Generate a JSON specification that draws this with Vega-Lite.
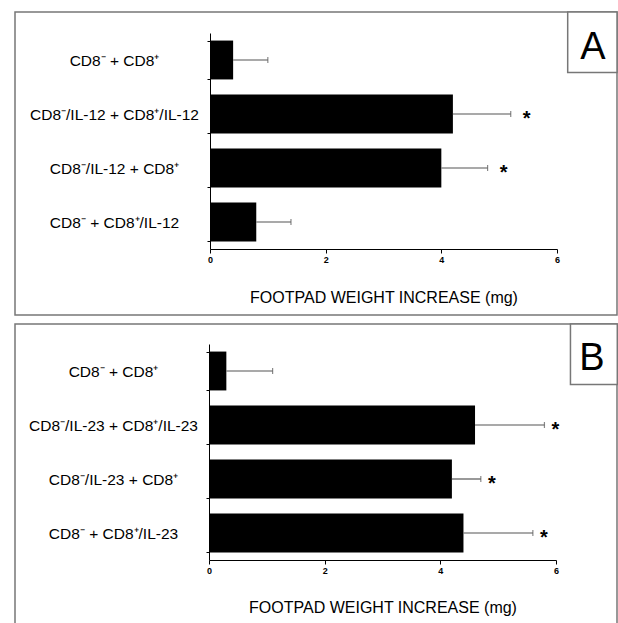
{
  "$schema": "https://vega.github.io/schema/vega-lite/v6.json",
  "padding": {"left": 14, "top": 4, "right": 2, "bottom": 0},
  "spacing": 0,
  "config": {
    "view": {"stroke": "#777", "strokeWidth": 1.5},
    "font": "Liberation Sans",
    "axis": {"labelFont": "Liberation Sans", "titleFont": "Liberation Sans", "grid": false}
  },
  "vconcat": [
    {
      "width": 602,
      "height": 303,
      "data": {"values": [
        {"group": "CD8⁻ + CD8⁺", "mean": 0.4, "upper": 1.0, "sig": ""},
        {"group": "CD8⁻/IL-12 + CD8⁺/IL-12", "mean": 4.2, "upper": 5.2, "sig": "*"},
        {"group": "CD8⁻/IL-12 + CD8⁺", "mean": 4.0, "upper": 4.8, "sig": "*"},
        {"group": "CD8⁻ + CD8⁺/IL-12", "mean": 0.8, "upper": 1.4, "sig": ""}
      ]},
      "layer": [
        {
          "layer": [
            {
              "mark": {"type": "bar", "color": "black"},
              "encoding": {
                "y": {"field": "group", "type": "nominal", "sort": null,
                  "scale": {"range": [21, 237], "paddingInner": 0.28, "paddingOuter": 0.14},
                  "axis": {"title": null, "offset": -195, "domainColor": "black", "tickColor": "black", "tickSize": 3, "tickBand": "extent", "labelFontSize": 15.5, "labelAlign": "center", "labelPadding": 93, "labelLimit": 400, "labelColor": "black"}},
                "x": {"field": "mean", "type": "quantitative",
                  "scale": {"domain": [0, 6], "range": [195, 542], "nice": false, "zero": true},
                  "axis": {"values": [0, 2, 4, 6], "format": "d", "offset": -66, "domainColor": "black", "tickColor": "black", "tickSize": 4, "labelFontSize": 9, "labelFontWeight": "bold", "labelPadding": 2, "labelColor": "black", "labelFlush": false, "title": "FOOTPAD WEIGHT INCREASE (mg)", "titleFontSize": 16, "titleFontWeight": "normal", "titlePadding": 25, "titleColor": "black"}}
              }
            },
            {
              "mark": {"type": "rule", "color": "#555", "strokeWidth": 1.2},
              "encoding": {
                "y": {"field": "group", "type": "nominal", "sort": null},
                "x": {"field": "mean", "type": "quantitative"},
                "x2": {"field": "upper"}
              }
            },
            {
              "mark": {"type": "tick", "orient": "vertical", "size": 6, "thickness": 1.2, "color": "#555"},
              "encoding": {
                "y": {"field": "group", "type": "nominal", "sort": null},
                "x": {"field": "upper", "type": "quantitative"}
              }
            },
            {
              "mark": {"type": "text", "fontSize": 20, "fontWeight": "bold", "dx": 16, "dy": 11, "baseline": "alphabetic", "align": "center", "color": "black"},
              "encoding": {
                "y": {"field": "group", "type": "nominal", "sort": null},
                "x": {"field": "upper", "type": "quantitative"},
                "text": {"field": "sig"}
              }
            }
          ]
        },
        {
          "data": {"values": [{"letter": "A"}]},
          "mark": {"type": "rect", "fill": "white", "stroke": "#777", "strokeWidth": 1.5},
          "encoding": {
            "x": {"datum": 6.185, "type": "quantitative"},
            "x2": {"datum": 7.038},
            "y": {"datum": 0.8, "type": "quantitative", "scale": {"domain": [0, 1]}, "axis": null},
            "y2": {"datum": 1}
          }
        },
        {
          "data": {"values": [{"letter": "A"}]},
          "mark": {"type": "text", "fontSize": 38, "baseline": "alphabetic", "align": "center", "color": "black"},
          "encoding": {
            "x": {"datum": 6.62, "type": "quantitative"},
            "y": {"datum": 0.845, "type": "quantitative", "scale": {"domain": [0, 1]}, "axis": null},
            "text": {"field": "letter"}
          }
        }
      ],
      "resolve": {"scale": {"y": "independent"}}
    },
    {
      "width": 602,
      "height": 303,
      "data": {"values": [
        {"group": "CD8⁻ + CD8⁺", "mean": 0.3, "upper": 1.1, "sig": ""},
        {"group": "CD8⁻/IL-23 + CD8⁺/IL-23", "mean": 4.6, "upper": 5.8, "sig": "*"},
        {"group": "CD8⁻/IL-23 + CD8⁺", "mean": 4.2, "upper": 4.7, "sig": "*"},
        {"group": "CD8⁻ + CD8⁺/IL-23", "mean": 4.4, "upper": 5.6, "sig": "*"}
      ]},
      "layer": [
        {
          "layer": [
            {
              "mark": {"type": "bar", "color": "black"},
              "encoding": {
                "y": {"field": "group", "type": "nominal", "sort": null,
                  "scale": {"range": [20, 236], "paddingInner": 0.28, "paddingOuter": 0.14},
                  "axis": {"title": null, "offset": -194, "domainColor": "black", "tickColor": "black", "tickSize": 3, "tickBand": "extent", "labelFontSize": 15.5, "labelAlign": "center", "labelPadding": 93, "labelLimit": 400, "labelColor": "black"}},
                "x": {"field": "mean", "type": "quantitative",
                  "scale": {"domain": [0, 6], "range": [194, 541], "nice": false, "zero": true},
                  "axis": {"values": [0, 2, 4, 6], "format": "d", "offset": -67, "domainColor": "black", "tickColor": "black", "tickSize": 4, "labelFontSize": 9, "labelFontWeight": "bold", "labelPadding": 2, "labelColor": "black", "labelFlush": false, "title": "FOOTPAD WEIGHT INCREASE (mg)", "titleFontSize": 16, "titleFontWeight": "normal", "titlePadding": 24, "titleColor": "black"}}
              }
            },
            {
              "mark": {"type": "rule", "color": "#555", "strokeWidth": 1.2},
              "encoding": {
                "y": {"field": "group", "type": "nominal", "sort": null},
                "x": {"field": "mean", "type": "quantitative"},
                "x2": {"field": "upper"}
              }
            },
            {
              "mark": {"type": "tick", "orient": "vertical", "size": 6, "thickness": 1.2, "color": "#555"},
              "encoding": {
                "y": {"field": "group", "type": "nominal", "sort": null},
                "x": {"field": "upper", "type": "quantitative"}
              }
            },
            {
              "mark": {"type": "text", "fontSize": 20, "fontWeight": "bold", "dx": 11, "dy": 11, "baseline": "alphabetic", "align": "center", "color": "black"},
              "encoding": {
                "y": {"field": "group", "type": "nominal", "sort": null},
                "x": {"field": "upper", "type": "quantitative"},
                "text": {"field": "sig"}
              }
            }
          ]
        },
        {
          "data": {"values": [{"letter": "B"}]},
          "mark": {"type": "rect", "fill": "white", "stroke": "#777", "strokeWidth": 1.5},
          "encoding": {
            "x": {"datum": 6.25, "type": "quantitative"},
            "x2": {"datum": 7.06},
            "y": {"datum": 0.8, "type": "quantitative", "scale": {"domain": [0, 1]}, "axis": null},
            "y2": {"datum": 1}
          }
        },
        {
          "data": {"values": [{"letter": "B"}]},
          "mark": {"type": "text", "fontSize": 38, "baseline": "alphabetic", "align": "center", "color": "black"},
          "encoding": {
            "x": {"datum": 6.62, "type": "quantitative"},
            "y": {"datum": 0.847, "type": "quantitative", "scale": {"domain": [0, 1]}, "axis": null},
            "text": {"field": "letter"}
          }
        }
      ],
      "resolve": {"scale": {"y": "independent"}}
    }
  ]
}
